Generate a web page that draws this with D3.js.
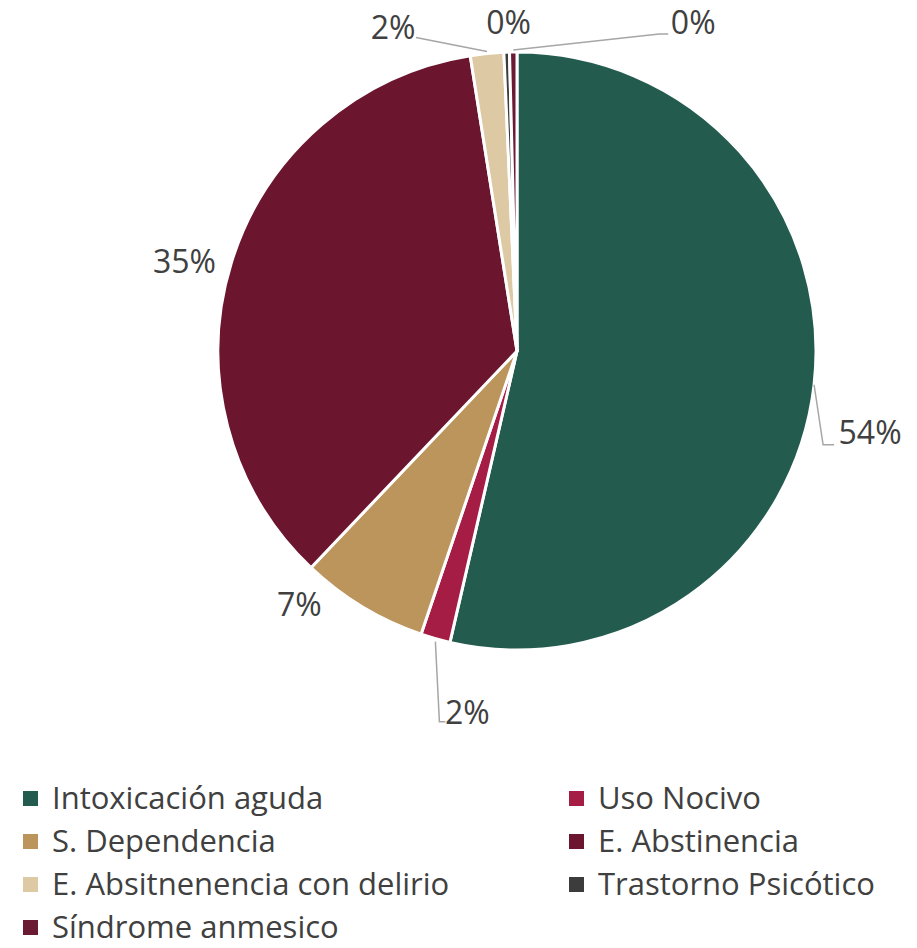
<!DOCTYPE html>
<html>
<head>
<meta charset="utf-8">
<script src="https://cdn.jsdelivr.net/npm/d3@7"></script>
<style>
  body { margin: 0; background: #fff; }
  text { font-family: "Open Sans", "Noto Sans", sans-serif; fill: #404040; }
</style>
</head>
<body>
<div id="chart"></div>
<script>
// categories and shares (%)
var categories = ["Intoxicación aguda", "Uso Nocivo", "S. Dependencia", "E. Abstinencia",
                  "E. Absitnenencia con delirio", "Trastorno Psicótico", "Síndrome anmesico"];
var values = [53.6, 1.6, 6.9, 35.4, 1.8, 0.3, 0.4];
var labels = ["54%", "2%", "7%", "35%", "2%", "0%", "0%"];
var colors = ["#235C4F", "#A51C45", "#BC955C", "#6B152F", "#DDC9A3", "#3C3C3C", "#6B1A34"];

var width = 917, height = 948;
var cx = 517, cy = 351, r = 299;

var svg = d3.select("#chart").append("svg")
  .attr("width", width)
  .attr("height", height);

var pie = d3.pie().sort(null).value(function(d) { return d; });
var arcs = pie(values);
var arc = d3.arc().innerRadius(0).outerRadius(r);

var g = svg.append("g").attr("transform", "translate(" + cx + "," + cy + ")");

g.selectAll("path.slice")
  .data(arcs)
  .enter().append("path")
  .attr("class", "slice")
  .attr("d", arc)
  .attr("fill", function(d, i) { return colors[i]; })
  .attr("stroke", "#fff")
  .attr("stroke-width", 3)
  .attr("stroke-linejoin", "round");

// label offsets relative to the slice's outer edge midpoint, and leader elbows
var labelOff = [[56, 48], [32, 74], [-63, -2], [-47, -1], [-94, -26], [2, -30], [180, -30]];
var leaders = [
  [[0, 0], [9, 60], [20, 60]],
  [[0, 3], [4, 83], [10, 83]],
  null,
  null,
  [[0, -2], [-71, -16]],
  null,
  [[0, -2], [146, -18], [155, -18]]
];

function edge(d, rr) {
  var a = (d.startAngle + d.endAngle) / 2;
  return [Math.sin(a) * rr, -Math.cos(a) * rr];
}

arcs.forEach(function(d, i) {
  var e = edge(d, r);
  if (leaders[i]) {
    g.append("path")
      .attr("d", d3.line()(leaders[i].map(function(p) { return [e[0] + p[0], e[1] + p[1]]; })))
      .attr("fill", "none")
      .attr("stroke", "#A6A6A6")
      .attr("stroke-width", 1.5);
  }
  g.append("text")
    .attr("x", e[0] + labelOff[i][0])
    .attr("y", e[1] + labelOff[i][1])
    .attr("text-anchor", "middle")
    .attr("dy", "0.36em")
    .style("font-size", "32px")
    .text(labels[i]);
});

// legend
var legend = svg.append("g");
var item = legend.selectAll("g.item")
  .data(categories)
  .enter().append("g")
  .attr("class", "item")
  .attr("transform", function(d, i) {
    var col = i % 2, row = Math.floor(i / 2);
    return "translate(" + (col ? 569 : 23) + "," + (798 + row * 43) + ")";
  });

item.append("rect")
  .attr("x", 0)
  .attr("y", -7)
  .attr("width", 15)
  .attr("height", 15)
  .attr("fill", function(d, i) { return colors[i]; });

item.append("text")
  .attr("x", 29)
  .attr("dy", "0.36em")
  .style("font-size", "31px")
  .text(function(d) { return d; });
</script>
</body>
</html>
